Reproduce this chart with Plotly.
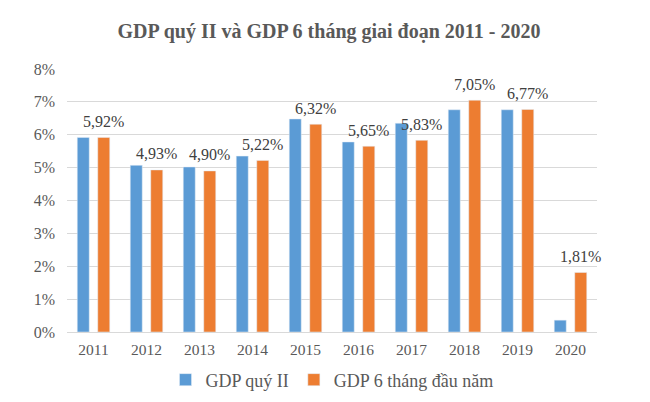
import plotly.graph_objects as go

years = ["2011", "2012", "2013", "2014", "2015", "2016", "2017", "2018", "2019", "2020"]
gdp_q2 = [5.92, 5.07, 5.02, 5.35, 6.48, 5.78, 6.35, 6.76, 6.76, 0.36]
gdp_6m = [5.92, 4.93, 4.90, 5.22, 6.32, 5.65, 5.83, 7.05, 6.77, 1.81]
y_ticks = [0, 1, 2, 3, 4, 5, 6, 7, 8]
y_tick_labels = [f"{v}%" for v in y_ticks]

FONT = "Liberation Serif"
BLUE = "#5b9bd5"
ORANGE = "#ed7d31"

labels_6m = [f"{v:.2f}".replace(".", ",") + "%" for v in gdp_6m]

fig = go.Figure()
fig.add_trace(go.Bar(x=years, y=gdp_q2, name="GDP quý II", marker_color=BLUE))
fig.add_trace(go.Bar(x=years, y=gdp_6m, name="GDP 6 tháng đầu năm", marker_color=ORANGE))

# data labels above the orange bars (x given as category index)
for i, (v, lab) in enumerate(zip(gdp_6m, labels_6m)):
    fig.add_annotation(
        x=i, y=v, xref="x", yref="y", text=lab,
        showarrow=False, xshift=10, yshift=16, yanchor="middle",
        font=dict(family=FONT, size=16, color="#404040"),
    )

fig.update_layout(
    width=642, height=394,
    margin=dict(l=59, r=53, t=61, b=70, autoexpand=False),
    paper_bgcolor="white", plot_bgcolor="white",
    font=dict(family=FONT, size=16, color="#595959"),
    title=dict(
        text="<b>GDP quý II và GDP 6 tháng giai đoạn 2011 - 2020</b>",
        x=0.5, xanchor="center", y=0.942, yanchor="middle",
        font=dict(family=FONT, size=20, color="#595959"),
    ),
    barmode="group", bargap=0.226, bargroupgap=0.415,
    showlegend=True,
    legend=dict(
        orientation="h", x=0.5, xanchor="center",
        yref="container", y=0.056, yanchor="middle",
        font=dict(family=FONT, size=18, color="#595959"),
        traceorder="normal",
    ),
    xaxis=dict(type="category", categoryorder="array", categoryarray=years,
               range=[-0.5, 9.5], autorange=False, automargin=False,
               showgrid=False, showline=False, ticks="", zeroline=False,
               tickfont=dict(size=15.5), ticklabelstandoff=6),
    yaxis=dict(
        range=[0, 8], autorange=False, automargin=False,
        tickvals=y_ticks, ticktext=y_tick_labels,
        showgrid=True, gridcolor="#d9d9d9", gridwidth=1,
        zeroline=True, zerolinecolor="#d9d9d9", zerolinewidth=1,
        showline=False, ticks="", tickfont=dict(size=16),
        ticklabelstandoff=11,
    ),
)

fig.write_html("out.html")
